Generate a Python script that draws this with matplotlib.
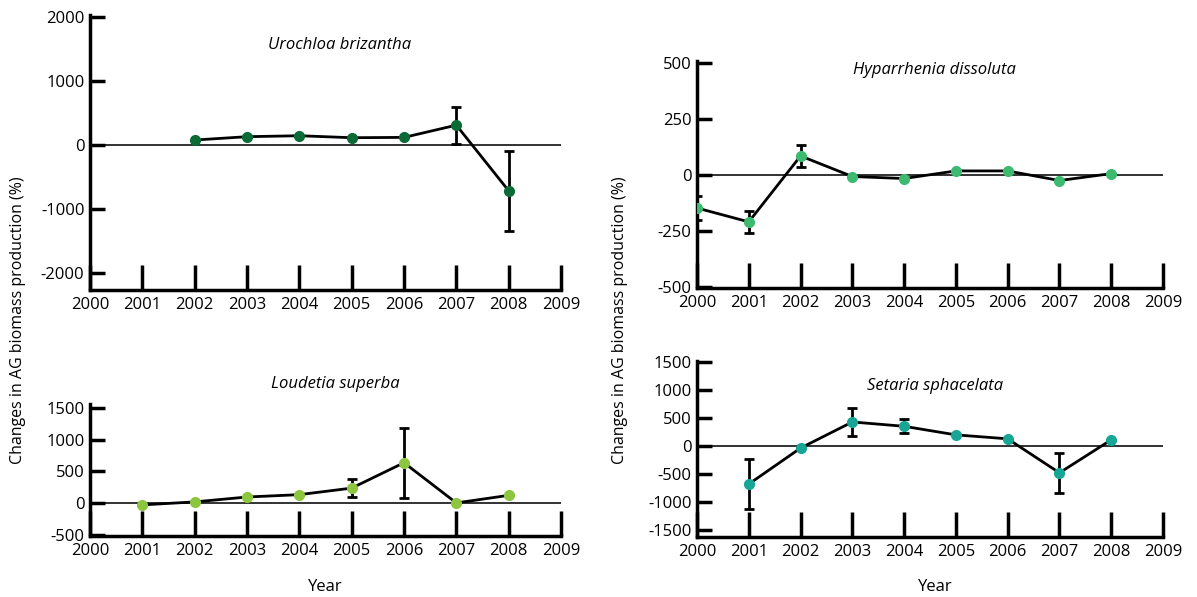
import numpy as np
import matplotlib
matplotlib.use('Agg')
import matplotlib.pyplot as plt

plt.rcParams['font.family'] = ['Open Sans', 'DejaVu Sans']
plt.rcParams['axes.unicode_minus'] = False

years = np.arange(2000, 2010)

# Urochloa brizantha
uro_x = [2002, 2003, 2004, 2005, 2006, 2007, 2008]
uro_y = [77, 129, 144, 113, 118, 309, -716]
uro_lo = [0, 0, 0, 0, 0, 294, 624]
uro_hi = [0, 0, 0, 0, 0, 284, 618]

# Hyparrhenia dissoluta
hyp_x = [2000, 2001, 2002, 2003, 2004, 2005, 2006, 2007, 2008]
hyp_y = [-148, -210, 85, -7, -16, 18, 18, -25, 6]
hyp_lo = [52, 49, 51, 0, 0, 0, 0, 0, 0]
hyp_hi = [52, 50, 47, 0, 0, 0, 0, 0, 0]

# Loudetia superba
lou_x = [2001, 2002, 2003, 2004, 2005, 2006, 2007, 2008]
lou_y = [-26, 21, 98, 135, 238, 637, 5, 124]
lou_lo = [0, 0, 0, 0, 140, 559, 0, 0]
lou_hi = [0, 0, 0, 0, 140, 544, 0, 0]

# Setaria sphacelata
set_x = [2001, 2002, 2003, 2004, 2005, 2006, 2007, 2008]
set_y = [-682, -41, 424, 347, 194, 124, -482, 106]
set_lo = [447, 0, 242, 123, 0, 0, 359, 0]
set_hi = [453, 0, 241, 124, 0, 0, 353, 0]

W, H = 1197, 597
fig = plt.figure(figsize=(W / 100, H / 100), dpi=100)


def make_ax(left, right, top, bottom):
    return fig.add_axes([left / W, 1 - bottom / H, (right - left) / W, (bottom - top) / H])


panels = [
    # x, y, lo, hi, color, title, yticks, ylim, box, title position
    (uro_x, uro_y, uro_lo, uro_hi, '#0b6b36', 'Urochloa brizantha',
     [-2000, -1000, 0, 1000, 2000], (-2266, 2030), (90, 561, 15, 290), (0.53, 0.89)),
    (hyp_x, hyp_y, hyp_lo, hyp_hi, '#3dba70', 'Hyparrhenia dissoluta',
     [-500, -250, 0, 250, 500], (-506, 510), (697, 1163, 61, 288), (0.51, 0.96)),
    (lou_x, lou_y, lou_lo, lou_hi, '#8cc63f', 'Loudetia superba',
     [-500, 0, 500, 1000, 1500], (-515, 1560), (90, 561, 404, 536), (0.52, 1.15)),
    (set_x, set_y, set_lo, set_hi, '#17a596', 'Setaria sphacelata',
     [-1500, -1000, -500, 0, 500, 1000, 1500], (-1625, 1510), (697, 1163, 361, 537), (0.51, 0.86)),
]

for x, y, lo, hi, col, title, yt, yl, box, tpos in panels:
    ax = make_ax(*box)
    ax.axhline(0, color='#222222', lw=1.3, zorder=1)
    ax.errorbar(x, y, yerr=[lo, hi], fmt='none', ecolor='black', elinewidth=2,
                capsize=3.5, capthick=2, zorder=2)
    ax.plot(x, y, color='black', lw=2, zorder=3)
    ax.plot(x, y, 'o', color=col, ms=7, zorder=4)
    ax.set_xlim(2000, 2009)
    ax.set_ylim(*yl)
    ax.set_xticks(years)
    ax.set_yticks(yt)
    ax.spines['top'].set_visible(False)
    ax.spines['right'].set_visible(False)
    ax.spines['left'].set_linewidth(2.5)
    ax.spines['bottom'].set_linewidth(2.5)
    ax.tick_params(axis='x', direction='in', length=18, width=2.5, labelsize=12, pad=5)
    ax.tick_params(axis='y', direction='in', length=11, width=2.5, labelsize=12, pad=4)
    ax.set_facecolor('none')
    ax.text(tpos[0], tpos[1], title, transform=ax.transAxes, ha='center', va='center',
            fontsize=12, style='italic')

ylab = 'Changes in AG biomass production (%)'
fig.text(18 / W, 1 - 320 / H, ylab, rotation=90, ha='center', va='center', fontsize=11.5)
fig.text(620 / W, 1 - 320 / H, ylab, rotation=90, ha='center', va='center', fontsize=11.5)
fig.text(325 / W, 1 - 587 / H, 'Year', ha='center', va='center', fontsize=12)
fig.text(935 / W, 1 - 587 / H, 'Year', ha='center', va='center', fontsize=12)

fig.savefig('out.png', dpi=100)
